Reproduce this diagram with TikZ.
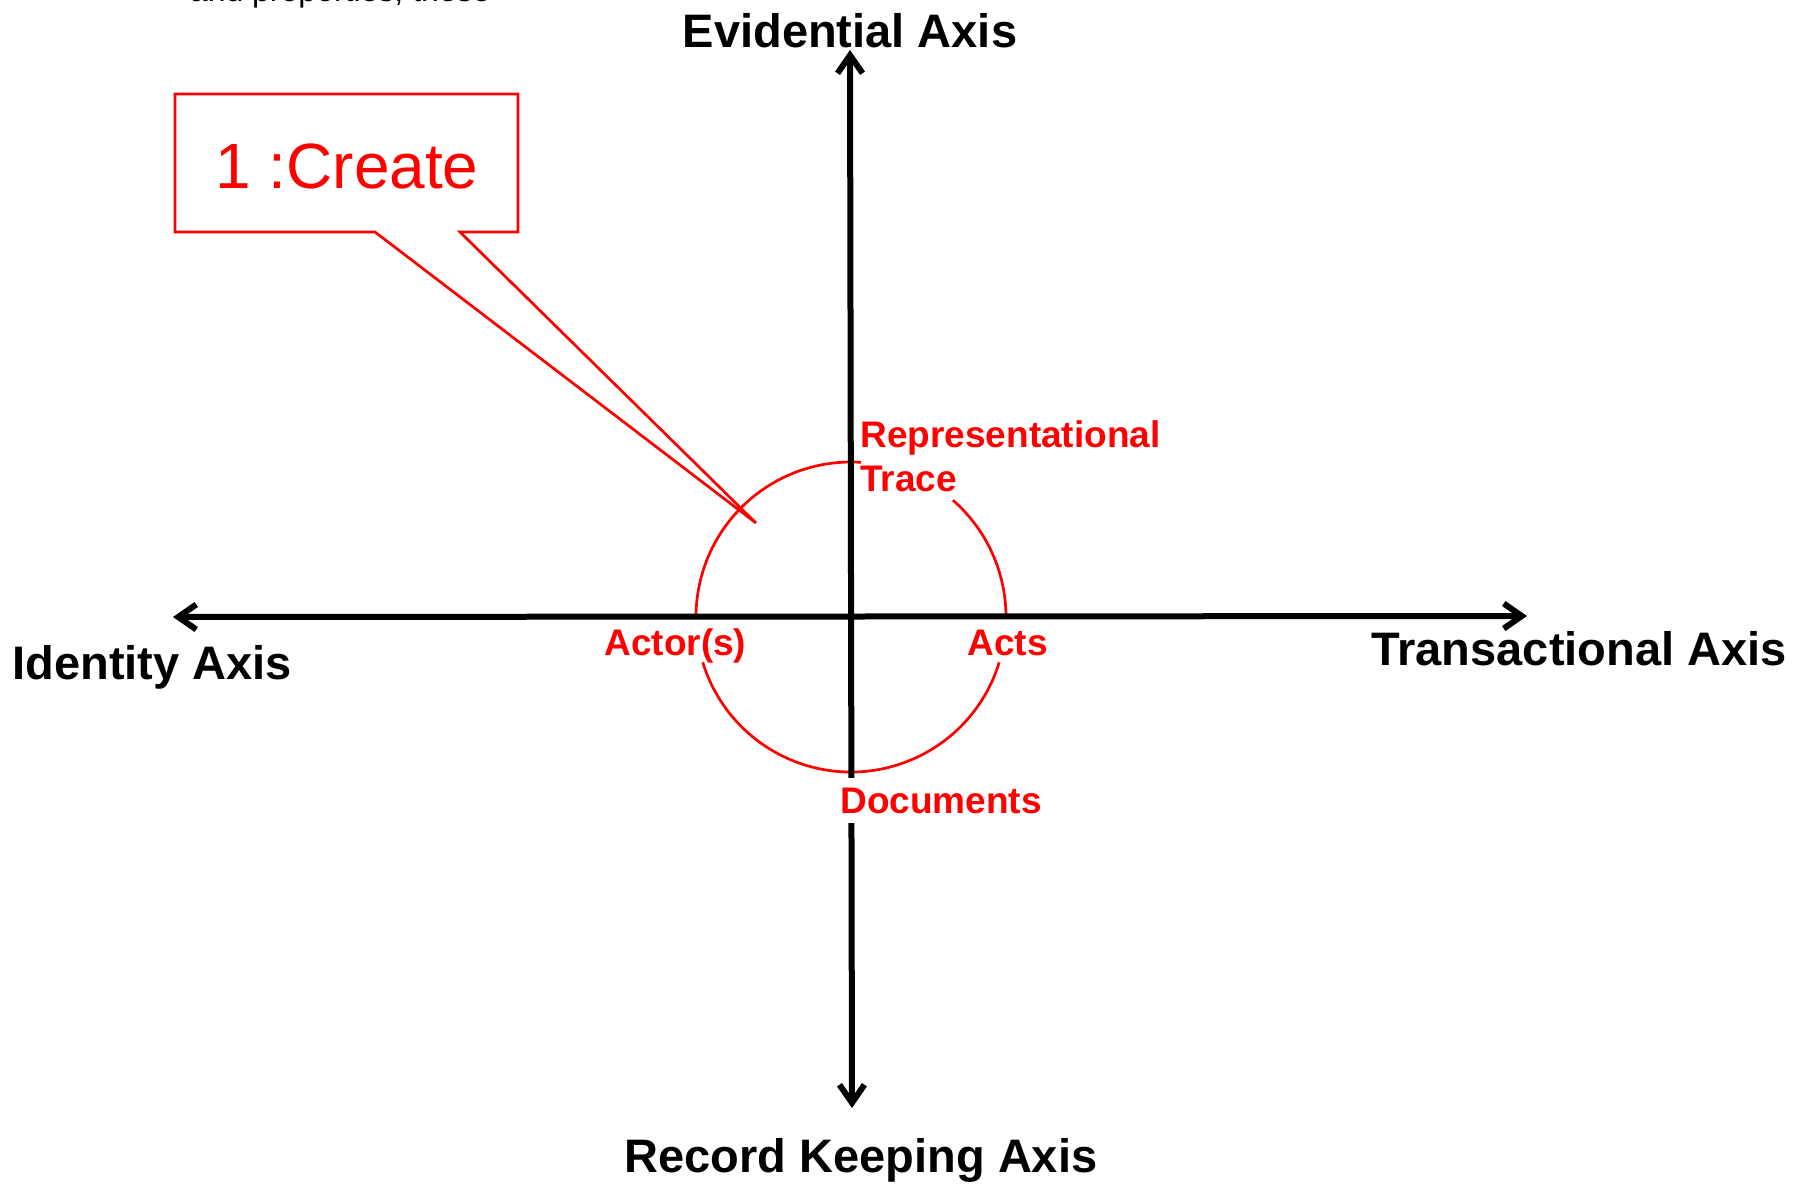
\documentclass[tikz,border=0pt]{standalone}
\usepackage{fontspec}
\setmainfont{Liberation Sans}
\usetikzlibrary{arrows.meta}
\definecolor{pptred}{RGB}{255,0,0}
\begin{document}
\begin{tikzpicture}[x=0.5pt,y=-0.5pt,
  axisline/.style={line width=3pt,
    {Straight Barb[length=9pt,width=12.5pt]}-{Straight Barb[length=9pt,width=12.5pt]}},
  axislabel/.style={font=\fontsize{23.5}{28}\selectfont\bfseries, inner sep=0pt},
  redlabel/.style={font=\fontsize{18.5}{22}\selectfont\bfseries, text=pptred, inner sep=0pt},
  redline/.style={draw=pptred, line width=1.35pt},
]
\useasboundingbox (0,0) rectangle (1794,1184);

% cropped text fragment at the very top
\node[font=\fontsize{16}{19}\selectfont, inner sep=0pt, anchor=base east] (frag) at (491,1.5) {and properties, these};

% circle (drawn as arcs with gaps behind the labels)
\coordinate (O) at (851,617);
\draw[redline] (O) ++(-48.9:155) arc[start angle=-48.9, end angle=0, radius=155];
\draw[redline] (O) ++(17:155) arc[start angle=17, end angle=163, radius=155];
\draw[redline] (O) ++(180:155) arc[start angle=180, end angle=273.7, radius=155];

% axes
\coordinate (Ltip) at (173,617);
\coordinate (Rtip) at (1527,616);
\coordinate (Ttip) at (850,50);
\coordinate (Btip) at (852,1108);
\draw[axisline] (Ltip) -- (Rtip);
\draw[axisline] (Ttip) -- (Btip);

% axis labels
\node[axislabel, anchor=base] (evid) at (850,47) {Evidential Axis};
\node[axislabel, anchor=base west] (ident) at (12,679) {Identity Axis};
\node[axislabel, anchor=base west] (trans) at (1371,665) {Transactional Axis};
\node[axislabel, anchor=base] (reck) at (861,1172) {Record Keeping Axis};

% red labels
\node[redlabel, anchor=base west] (rep1) at (860,447) {Representational};
\node[redlabel, anchor=base west] (rep2) at (860,491) {Trace};
\node[redlabel, anchor=base west] (actor) at (604,655) {Actor(s)};
\node[redlabel, anchor=base west] (acts) at (967,655) {Acts};
\node[redlabel, fill=white, inner xsep=5pt, inner ysep=5pt, anchor=base west] (docs) at (830,813) {Documents};

% callout
\coordinate (tip) at (756,523);
\node[font=\fontsize{32}{38}\selectfont, text=pptred, inner sep=0pt, anchor=base] (create) at (347,188) {1 :Create};
\draw[redline, line join=miter] (375,232) -- (175,232) -- (175,94) -- (518,94) -- (518,232) -- (460,232) -- (tip) -- cycle;
\end{tikzpicture}
\end{document}
